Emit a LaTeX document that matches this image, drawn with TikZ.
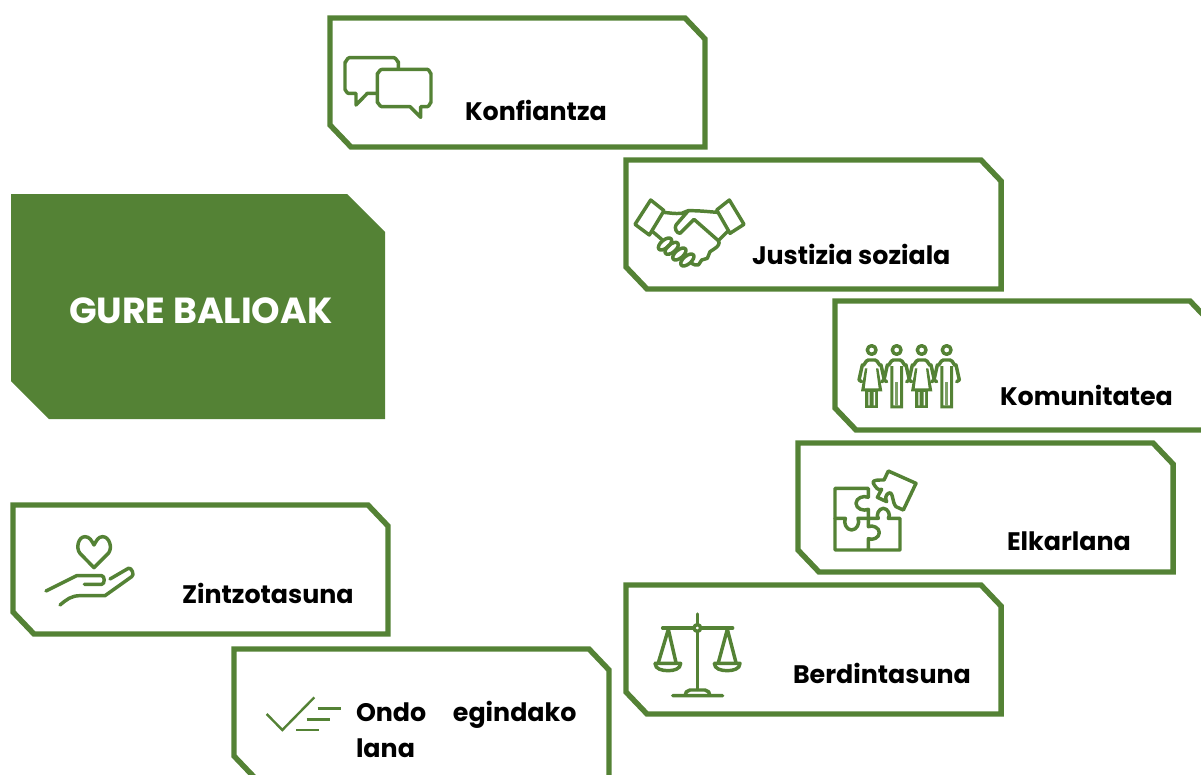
\documentclass[tikz,border=0pt]{standalone}
\usepackage{fontspec}
\setmainfont{Poppins}
\definecolor{gr}{HTML}{548235}
\tikzset{
  frame/.style={draw=gr,line width=4.1pt,miter limit=10},
  icon/.style={draw=gr,line width=2.6pt,line cap=round,line join=round},
  label/.style={anchor=base west,inner sep=0pt,outer sep=0pt,font=\fontsize{19}{20}\selectfont\bfseries,text=black},
  px/.style={x=.75pt,y=-.75pt},
  zoomed/.style={x=.25pt,y=-.25pt}
}
\newcommand{\gbox}[2]{\draw[frame] (#1,#2) -- ++(355,0) -- ++(20,21) -- ++(0,108) -- ++(-354,0) -- ++(-21,-22) -- cycle;}
\newcommand{\woman}[1]{%
  \draw[icon] (#1,60) circle (13);
  \draw[icon] (#1-30,155) -- (#1-38,150) -- (#1-28,105) to[out=-60,in=180] (#1-10,90) -- (#1+10,90) to[out=0,in=-120] (#1+28,105) -- (#1+38,150) -- (#1+30,155);
  \fill[gr] (#1-20,115) -- (#1-32,184) -- (#1+32,184) -- (#1+20,115) -- (#1+13,115) -- (#1+21,175) -- (#1-21,175) -- (#1-13,115) -- cycle;
  \fill[gr] (#1-19,182) rectangle (#1+19,235);
  \fill[white] (#1-10,186) rectangle (#1-6,226) (#1+6,186) rectangle (#1+10,226);
}
\newcommand{\man}[1]{%
  \draw[icon] (#1,60) circle (13);
  \draw[icon] (#1-30,155) -- (#1-38,150) -- (#1-28,105) to[out=-60,in=180] (#1-10,90) -- (#1+10,90) to[out=0,in=-120] (#1+28,105) -- (#1+38,150) -- (#1+30,155);
  \fill[gr] (#1-19,108) rectangle (#1-10,235) (#1+10,108) rectangle (#1+19,235) (#1-19,226) rectangle (#1+19,235);
  \fill[gr!75!white] (#1-4,155) rectangle (#1+4,228);
}
\begin{document}
\begin{tikzpicture}[px]
\useasboundingbox (0,0) rectangle (1201,774);
\begin{scope}
\clip (0,0) rectangle (1201,774);
\gbox{330}{18}
\gbox{626}{160}
\gbox{835}{301}
\gbox{798}{443}
\gbox{626}{585}
\gbox{13}{505}
\gbox{234}{649}
\end{scope}
\fill[gr] (11,194) -- (347,194) -- (385,232) -- (385,419) -- (49,419) -- (11,381) -- cycle;
\node[label,text=white,font=\fontsize{27.2}{28}\selectfont\bfseries] (title) at (69,323) {GURE BALIOAK};
\node[label] (a) at (465,120) {Konfiantza};
\node[label] (b) at (752,264) {Justizia soziala};
\node[label] (c) at (1000,405) {Komunitatea};
\node[label] (d) at (1007,550) {Elkarlana};
\node[label] (e) at (793,683) {Berdintasuna};
\node[label] (f) at (182,603) {Zintzotasuna};
\node[label] (g) at (356,721) {Ondo\hspace{1.05em}egindako};
\node[label] (h) at (356,757) {lana};
% speech bubbles
\begin{scope}[shift={(320,10)},zoomed]
\draw[icon] (235,176) -- (235,155) to[out=-90,in=0] (222,143) -- (88,143) to[out=180,in=-90] (75,156) -- (75,240) to[out=90,in=180] (85,250) -- (108,250) -- (108,285) -- (142,250) -- (172,250);
\draw[icon] (185,178) -- (322,178) to[out=0,in=-90] (333,190) -- (333,278) to[out=90,in=0] (322,290) -- (302,290) -- (302,322) -- (270,290) -- (185,290) to[out=180,in=90] (172,278) -- (172,190) to[out=-90,in=180] (185,178);
\end{scope}
% handshake
\begin{scope}[shift={(620,180)},zoomed]
\draw[icon] (92,60) -- (132,92) -- (88,165) -- (45,133) -- cycle;
\draw[icon] (328,60) -- (372,133) -- (330,160) -- (290,90) -- cycle;
\draw[icon] (130,97) to[out=-5,in=185] (185,100) to[out=5,in=180] (205,92) to[out=0,in=175] (290,97);
\draw[icon] (205,92) -- (168,135) to[out=-120,in=180] (180,160) -- (222,118) -- (295,182) to[out=-50,in=30] (285,205) -- (270,215) -- (262,235) -- (245,240) -- (235,255) to[out=180,in=-40] (215,250);
\draw[icon] (98,155) -- (125,178);
\draw[icon] (295,182) -- (325,152);
\foreach \p in {(135,192),(155,205),(178,222),(202,240)}
  \draw[icon,rotate around={-50:\p}] \p ellipse (12 and 24);
\end{scope}
% people
\begin{scope}[shift={(840,330)},zoomed]
\woman{95}
\man{170}
\woman{245}
\man{320}
\end{scope}
% puzzle
\begin{scope}[shift={(820,460)},zoomed]
\draw[icon] (145,112) -- (145,85) -- (45,85) -- (45,270) -- (240,270) -- (240,175) -- (205,175) to[out=50,in=0] (190,145) to[out=180,in=130] (175,175) -- (145,175) -- (145,200) to[out=25,in=90] (178,218) to[out=-90,in=-25] (145,236) -- (145,270);
\draw[icon] (145,112) to[out=155,in=90] (108,130) to[out=-90,in=-155] (145,148) -- (145,175);
\draw[icon] (45,175) -- (76,175) to[out=-115,in=180] (95,210) to[out=0,in=-65] (114,175) -- (145,175);
\draw[icon] (205,33) -- (288,70) -- (250,150) -- (228,140) to[out=135,in=30] (205,100) to[out=210,in=120] (200,125) -- (172,112) -- (185,88) to[out=210,in=-60] (160,70) to[out=120,in=180] (192,60) -- cycle;
\end{scope}
% scales
\begin{scope}[shift={(640,600)},zoomed]
\draw[icon] (172,42) -- (172,72) (172,95) -- (172,268);
\draw[icon] (172,84) circle (10);
\draw[icon] (68,84) -- (160,84) (184,84) -- (278,84);
\draw[icon] (85,88) -- (55,188) (85,88) -- (108,188);
\draw[icon] (262,88) -- (235,188) (262,88) -- (288,188);
\draw[icon] (45,190) -- (122,190) to[out=-90,in=0] (85,212) to[out=180,in=-90] (45,190);
\draw[icon] (223,190) -- (300,190) to[out=-90,in=0] (262,212) to[out=180,in=-90] (223,190);
\draw[icon] (98,287) -- (248,287) (135,287) to[out=90,in=180] (150,270) -- (195,270) to[out=0,in=90] (210,287);
\end{scope}
% heart in hand
\begin{scope}[shift={(30,525)},zoomed]
\draw[icon] (192,128) -- (150,85) to[out=130,in=180] (165,35) to[out=0,in=120] (192,60) to[out=60,in=180] (218,35) to[out=0,in=50] (235,85) -- cycle;
\draw[icon] (48,198) -- (140,152) -- (215,152) to[out=0,in=0] (215,178) -- (163,178);
\draw[icon] (240,162) -- (295,130) to[out=30,in=20] (305,155) -- (225,212) -- (150,212) to[out=180,in=40] (90,240);
\end{scope}
% check
\begin{scope}[shift={(225,640)},zoomed]
\draw[draw=gr,line width=1.8pt] (125,222) -- (172,270) -- (268,172);
\draw[draw=gr,line width=1.8pt] (278,205) -- (348,205) (245,238) -- (316,238) (213,270) -- (283,270);
\end{scope}
\end{tikzpicture}
\end{document}
